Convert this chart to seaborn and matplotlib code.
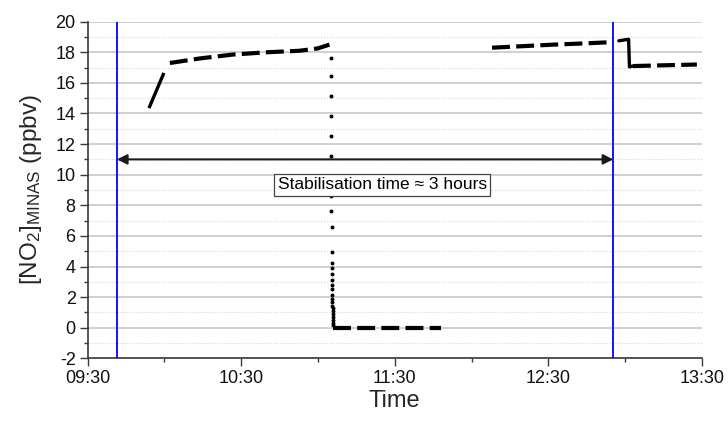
import pandas as pd
import matplotlib
matplotlib.use("Agg")
import matplotlib.pyplot as plt
import matplotlib.dates as mdates
from matplotlib.ticker import MultipleLocator
import seaborn as sns

DAY = "2000-01-01 "

# warm-up rise of the analyser (continuous trace)
rise_time = ["09:54:00", "09:59:50"]
rise_no2 = [14.35, 16.65]

# first plateau
plateau1_time = ["10:02:10", "10:14:00", "10:26:40", "10:40:00", "10:52:50", "10:59:50", "11:04:30"]
plateau1_no2 = [17.30, 17.60, 17.85, 18.00, 18.10, 18.25, 18.50]

# individual samples recorded while the signal decays
decay_time = ["11:05:00", "11:05:02", "11:05:04", "11:05:06", "11:05:08", "11:05:10", "11:05:12",
              "11:05:14", "11:05:16", "11:05:18", "11:05:20", "11:05:22", "11:05:24", "11:05:26",
              "11:05:28", "11:05:30", "11:05:32", "11:05:34", "11:05:36", "11:05:38", "11:05:40",
              "11:05:42", "11:05:44", "11:05:46", "11:05:48", "11:05:50", "11:05:52", "11:05:54"]
decay_no2 = [17.63, 16.46, 15.15, 13.85, 12.54, 11.24, 9.93, 8.63, 7.65, 6.61, 4.98, 4.26,
             3.87, 3.48, 3.15, 2.82, 2.50, 2.17, 1.85, 1.65, 1.45, 1.26, 1.06, 0.87, 0.67,
             0.48, 0.28, 0.15]

# zero baseline
zero_time = ["11:05:58", "11:20:00", "11:35:00", "11:48:10"]
zero_no2 = [0.0, 0.0, 0.0, 0.0]

# second plateau
plateau2_time = ["12:08:00", "12:20:00", "12:32:00", "12:44:00", "12:54:20"]
plateau2_no2 = [18.30, 18.40, 18.50, 18.58, 18.66]

# short step down
step_time = ["12:57:30", "13:01:20", "13:01:40", "13:03:00"]
step_no2 = [18.75, 18.85, 17.05, 17.10]

# final plateau
plateau3_time = ["13:03:00", "13:15:00", "13:28:00"]
plateau3_no2 = [17.10, 17.15, 17.20]

# stabilisation window
window_start = "09:41:30"
window_end = "12:55:20"
window_level = 11
window_label = "Stabilisation time \u2248 3 hours"

x_range = ["09:30:00", "13:30:00"]
y_range = [-2, 20]


def ts(values):
    return pd.to_datetime([DAY + v for v in values])


sns.set_theme(style="white")
plt.rcParams["font.family"] = ["Liberation Sans", "DejaVu Sans"]
plt.rcParams["mathtext.default"] = "regular"
plt.rcParams["axes.unicode_minus"] = False

fig = plt.figure(figsize=(7.28, 4.21), dpi=100)
ax = fig.add_axes([0.1202, 0.1489, 0.8441, 0.7996])

dash = (0, (4.3, 1.5))
lw = 3.0
ink = "black"

sns.lineplot(x=ts(rise_time), y=rise_no2, ax=ax, color=ink, lw=2.4, solid_capstyle="butt")
for t, v in [(plateau1_time, plateau1_no2), (zero_time, zero_no2),
             (plateau2_time, plateau2_no2), (plateau3_time, plateau3_no2)]:
    sns.lineplot(x=ts(t), y=v, ax=ax, color=ink, lw=lw, linestyle=dash)
sns.lineplot(x=ts(step_time), y=step_no2, ax=ax, color=ink, lw=2.4)
sns.scatterplot(x=ts(decay_time), y=decay_no2, ax=ax, color=ink, s=8,
                edgecolor=ink, linewidth=0, zorder=3)

# stabilisation window markers
for t in (window_start, window_end):
    ax.axvline(ts([t])[0], color="#0000ff", lw=1.3, zorder=4)
ax.annotate("", xy=(ts([window_end])[0], window_level), xytext=(ts([window_start])[0], window_level),
            arrowprops=dict(arrowstyle="<|-|>", color="#1a1a1a", lw=1.5,
                            mutation_scale=15, shrinkA=0, shrinkB=0), zorder=5)
ax.text(ts(["11:25:10"])[0], 9.35, window_label, ha="center", va="center", fontsize=12.5,
        color="black", zorder=6,
        bbox=dict(boxstyle="square,pad=0.2", fc="white", ec="#444444", lw=0.9))

ax.set_xlim(ts(x_range))
ax.set_ylim(*y_range)

ax.xaxis.set_major_locator(mdates.MinuteLocator(byminute=[30]))
ax.xaxis.set_minor_locator(mdates.MinuteLocator(byminute=[0]))
ax.xaxis.set_major_formatter(mdates.DateFormatter("%H:%M"))
ax.yaxis.set_major_locator(MultipleLocator(2))
ax.yaxis.set_minor_locator(MultipleLocator(1))

ax.yaxis.grid(True, which="major", color="#c4c4c4", lw=1.1)
ax.yaxis.grid(True, which="minor", color="#d4d4d4", lw=0.8, linestyle=":")
ax.xaxis.grid(False)
ax.set_axisbelow(True)

for side in ("top", "right"):
    ax.spines[side].set_visible(False)
for side in ("left", "bottom"):
    ax.spines[side].set_color("#3a3a3a")
    ax.spines[side].set_linewidth(1.2)

ax.tick_params(axis="both", which="major", direction="out", length=5.5, width=1,
               color="#3a3a3a", labelsize=13, labelcolor="#111111", pad=3,
               bottom=True, left=True)
ax.tick_params(axis="both", which="minor", direction="out", length=3, width=1,
               color="#3a3a3a", bottom=True, left=True)

ax.set_xlabel("Time", fontsize=17, labelpad=2)
ax.set_ylabel("[NO$_2$]$_{MINAS}$ (ppbv)", fontsize=17.5, labelpad=8)

fig.savefig("out.png", dpi=100)
